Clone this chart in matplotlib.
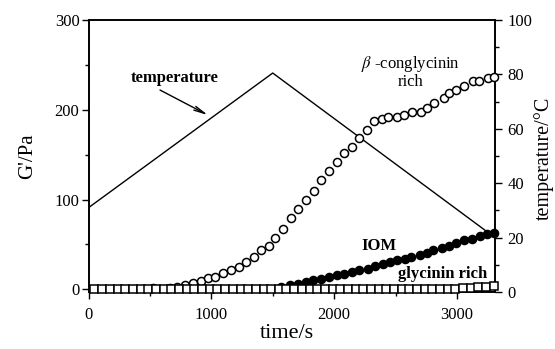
import matplotlib
matplotlib.use("Agg")
import matplotlib.pyplot as plt
from matplotlib.ticker import MultipleLocator

# fonts: Times-like serif
plt.rcParams['font.family'] = ['Liberation Serif', 'DejaVu Serif']
plt.rcParams['mathtext.fontset'] = 'stix'

# beta-conglycinin rich (open circles)
beta_time = [524, 660, 721, 785, 850, 915, 972, 1028, 1093, 1158, 1223, 1279, 1344, 1401,
             1466, 1522, 1587, 1652, 1709, 1773, 1838, 1895, 1960, 2024, 2081, 2146, 2202,
             2267, 2324, 2389, 2437, 2510, 2567, 2632, 2705, 2753, 2810, 2891, 2939, 2996,
             3061, 3134, 3182, 3255, 3300]
beta_g = [1.5, 1.0, 2.6, 4.5, 6.7, 8.9, 12.3, 13.4, 17.8, 21.2, 24.5, 30.1, 35.7, 43.5,
          48, 57, 67, 79, 89, 99.8, 110, 122, 132, 142, 152, 159, 169,
          178, 188, 190, 191.5, 191.5, 194, 197, 197, 202, 207, 213, 219, 222,
          226, 232, 232, 235, 236]

# IOM (filled circles)
iom_time = [1571, 1644, 1706, 1773, 1832, 1895, 1960, 2024, 2083, 2148, 2205, 2273, 2332,
            2394, 2455, 2516, 2575, 2623, 2699, 2753, 2807, 2880, 2934, 2996, 3061, 3123,
            3185, 3244, 3300]
iom_g = [2.6, 4.5, 6.4, 8.1, 10, 11.9, 13.7, 15.6, 17.5, 19.3, 21.2, 23.1, 25.6,
         27.9, 30.4, 32.3, 34.2, 36, 37.9, 40.9, 43.5, 46.5, 48, 51.7, 54.6, 56.5,
         59.1, 62.1, 62.8]

# glycinin rich (open squares)
gly_time = [46, 112, 175, 238, 300, 362, 425, 488, 550, 612, 675, 738, 800, 862, 925, 988,
            1050, 1112, 1175, 1238, 1300, 1362, 1425, 1488, 1550, 1612, 1675, 1738, 1800,
            1862, 1925, 1988, 2050, 2112, 2175, 2238, 2300, 2362, 2425, 2488, 2550, 2612,
            2675, 2738, 2800, 2862, 2925, 2988, 3050, 3112, 3175, 3238, 3300]
gly_g = [0] * 48 + [1.5, 2.0, 2.2, 2.2, 3.4]

# temperature ramp
temp_time = [0, 1500, 3250]
temp_c = [31, 80.5, 22]

fig = plt.figure(figsize=(5.55, 3.49), dpi=100)
ax1 = fig.add_axes([0.1595, 0.1633, 0.7324, 0.7794])
ax2 = ax1.twinx()

# temperature line on the right axis, drawn behind the markers
ax2.plot(temp_time, temp_c, color='black', lw=1.0)
ax1.set_zorder(ax2.get_zorder() + 1)
ax1.patch.set_visible(False)

ax1.plot(beta_time, beta_g, 'o', ms=5.8, mfc='white', mec='black', mew=1.1,
         clip_on=False, zorder=3)
ax1.plot(iom_time, iom_g, 'o', ms=5.8, mfc='black', mec='black', mew=1.1,
         clip_on=False, zorder=4)
ax1.plot(gly_time, gly_g, 's', ms=5.3, mfc='white', mec='black', mew=1.1,
         clip_on=False, zorder=5)

ax1.set_xlim(0, 3310)
ax1.set_ylim(-3, 300)
ax2.set_ylim(0, 100)

ax1.xaxis.set_major_locator(MultipleLocator(1000))
ax1.xaxis.set_minor_locator(MultipleLocator(500))
ax1.yaxis.set_major_locator(MultipleLocator(100))
ax1.yaxis.set_minor_locator(MultipleLocator(50))
ax2.yaxis.set_major_locator(MultipleLocator(20))
ax2.yaxis.set_minor_locator(MultipleLocator(10))

for ax in (ax1, ax2):
    for s in ax.spines.values():
        s.set_linewidth(1.2)
ax1.tick_params(axis='both', which='major', direction='out', length=5, width=1.0, labelsize=12)
ax1.tick_params(axis='both', which='minor', direction='out', length=3, width=1.0)
ax1.tick_params(axis='y', pad=1.5)
ax1.tick_params(axis='x', pad=6)
ax2.tick_params(axis='y', which='major', direction='out', length=5, width=1.0, labelsize=12, pad=4)
ax2.tick_params(axis='y', which='minor', direction='out', length=3, width=1.0)

ax1.set_ylabel("G'/Pa", fontsize=15, va='center', ha='center')
ax1.yaxis.set_label_coords(-0.15, 0.5)
ax2.set_ylabel("temperature/°C", fontsize=14.5, rotation=90, va='center', ha='center')
ax2.yaxis.set_label_coords(1.12, 0.49)
ax1.set_xlabel("time/s", fontsize=16, va='center', ha='center')
ax1.xaxis.set_label_coords(0.488, -0.151)

# annotations
ax1.text(704, 235, 'temperature', fontsize=12, fontweight='bold', ha='center', va='center')
ax1.annotate('', xy=(973, 194), xytext=(582, 222),
             arrowprops=dict(arrowstyle='->,head_length=0.8,head_width=0.15',
                             color='black', lw=1.0, shrinkA=0, shrinkB=0))
ax1.text(2623, 242, "$\\beta$ -conglycinin\nrich", fontsize=12, ha='center',
         va='center', linespacing=1.0)
ax1.text(2364, 48, 'IOM', fontsize=12, fontweight='bold', ha='center', va='center')
ax1.text(2883, 16.7, 'glycinin rich', fontsize=12, fontweight='bold', ha='center',
         va='center')

fig.savefig('out.png', dpi=100)
